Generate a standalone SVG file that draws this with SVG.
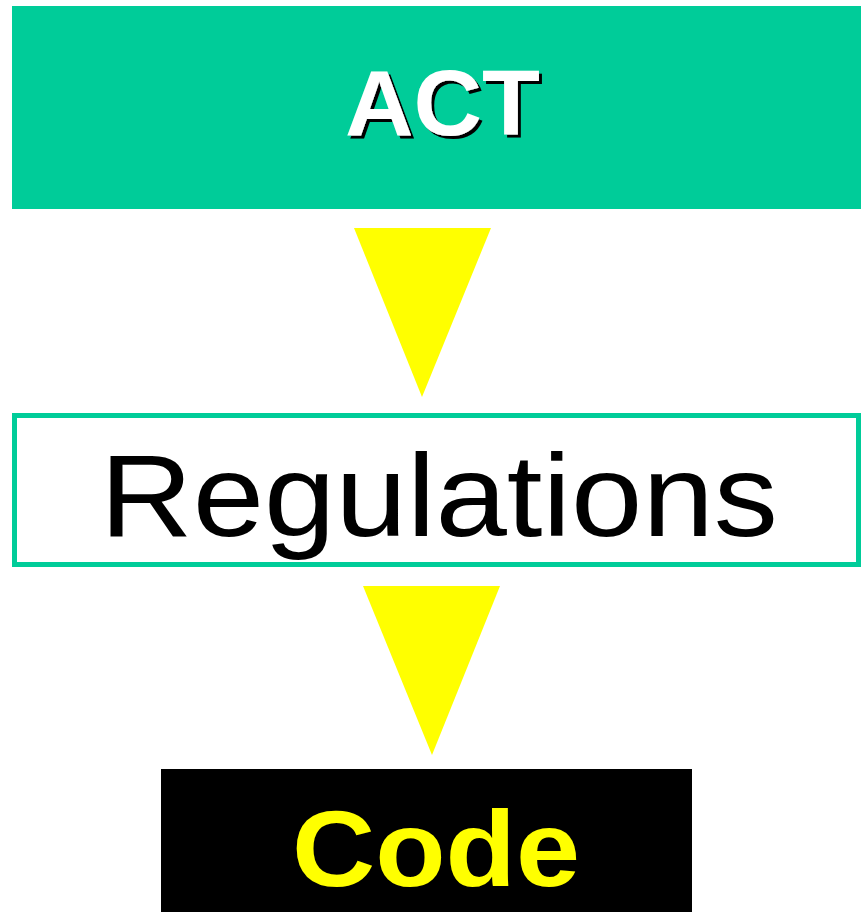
<svg xmlns="http://www.w3.org/2000/svg" width="861" height="912" viewBox="0 0 861 912">
<style>
.lbl{font-family:"Liberation Sans",Arial,sans-serif}
.arrow{fill:#FFFF00}
</style>
<defs>
<filter id="shadow" x="-10%" y="-10%" width="130%" height="130%">
<feOffset in="SourceAlpha" dx="3" dy="3" result="off"/>
<feFlood flood-color="#000000"/>
<feComposite in2="off" operator="in" result="sh"/>
<feMerge><feMergeNode in="sh"/><feMergeNode in="SourceGraphic"/></feMerge>
</filter>
</defs>
<rect width="861" height="912" fill="#FFFFFF"/>
<g id="act">
<rect x="12" y="6" width="849" height="203" fill="#00CC99"/>
<text class="lbl" x="345" y="135" font-size="92" font-weight="bold" fill="#FFFFFF" textLength="195" lengthAdjust="spacingAndGlyphs" filter="url(#shadow)">ACT</text>
</g>
<g id="regulations">
<rect x="14.5" y="415.5" width="844" height="149" fill="#FFFFFF" stroke="#00CC99" stroke-width="5"/>
<text class="lbl" x="100" y="536" font-size="116" fill="#000000" textLength="678" lengthAdjust="spacingAndGlyphs">Regulations</text>
</g>
<g id="code">
<rect x="161" y="769" width="531" height="143" fill="#000000"/>
<text class="lbl" x="292" y="886" font-size="108" font-weight="bold" fill="#FFFF00" textLength="288" lengthAdjust="spacingAndGlyphs">Code</text>
</g>
<g id="connectors">
<polygon class="arrow" points="354,228 491,228 422,397"/>
<polygon class="arrow" points="363,586 500,586 432,755"/>
</g>
</svg>
